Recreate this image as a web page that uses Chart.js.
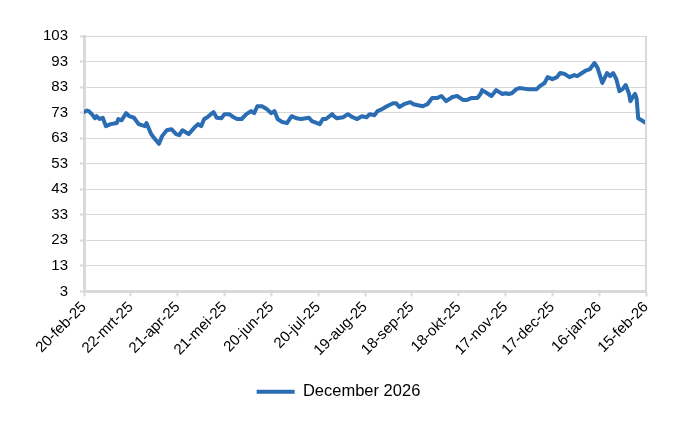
<!DOCTYPE html>
<html>
<head>
<meta charset="utf-8">
<script src="https://cdn.jsdelivr.net/npm/chart.js@4.4.1/dist/chart.umd.min.js"></script>
<style>
  html, body { margin: 0; padding: 0; background: #fff; }
  #wrap { width: 700px; height: 430px; }
</style>
</head>
<body>
<div id="wrap"><canvas id="chart" width="700" height="430"></canvas></div>
<script>
// days since 20-feb-25
const dayOffsets = [
  0, 2, 3, 5, 7, 8, 10, 12, 14, 17, 21, 22, 24, 27, 29, 32, 35, 39, 40, 43,
  45, 48, 50, 53, 56, 59, 61, 63, 66, 67, 71, 73, 75, 77, 79, 82, 83, 85, 88, 90,
  93, 95, 98, 101, 104, 107, 109, 111, 114, 117, 120, 122, 124, 127, 130, 133, 136, 139, 144, 146,
  151, 153, 155, 159, 160, 162, 166, 169, 172, 175, 178, 181, 183, 186, 188, 191, 194, 198, 200, 202,
  205, 209, 211, 214, 217, 220, 223, 226, 229, 232, 236, 239, 243, 245, 248, 252, 254, 255, 259, 261,
  264, 268, 270, 272, 274, 277, 279, 284, 288, 290, 292, 295, 297, 300, 303, 305, 308, 311, 314, 316,
  319, 321, 324, 327, 329, 332, 335, 337, 339, 341, 343, 345, 347, 349, 350, 352, 353, 354, 355, 358,
  360, 361
];
const dec2026 = [
  73.3, 73.8, 73.6, 72.4, 70.8, 71.6, 70.5, 71.0, 67.7, 68.5, 68.9, 70.5, 70.0, 72.8, 71.6, 71.0, 68.5, 67.7, 68.9, 64.6,
  63.0, 60.8, 63.8, 66.1, 66.5, 64.6, 64.2, 66.1, 65.0, 64.6, 67.3, 68.5, 67.7, 70.5, 71.2, 72.8, 73.2, 71.0, 70.8, 72.4,
  72.4, 71.5, 70.5, 70.5, 72.4, 73.6, 72.8, 75.5, 75.5, 74.4, 72.8, 73.6, 70.5, 69.3, 68.9, 71.6, 70.8, 70.5, 71.0, 69.7,
  68.5, 70.5, 70.5, 72.4, 71.6, 70.8, 71.2, 72.4, 71.2, 70.5, 71.6, 71.2, 72.4, 72.0, 73.6, 74.4, 75.5, 76.7, 76.7, 75.2,
  76.3, 77.1, 76.3, 75.9, 75.5, 76.3, 78.7, 78.7, 79.5, 77.5, 79.1, 79.5, 77.9, 77.9, 78.7, 78.7, 80.3, 81.8, 80.3, 79.5,
  81.8, 80.3, 80.6, 80.3, 80.6, 82.2, 82.6, 82.2, 82.2, 82.2, 83.4, 84.6, 86.9, 86.1, 86.9, 88.5, 88.1, 86.9, 87.7, 87.3,
  88.5, 89.3, 90.0, 92.4, 90.5, 84.6, 88.5, 87.3, 88.5, 86.1, 81.4, 82.2, 83.8, 80.6, 77.5, 79.5, 80.3, 78.5, 70.8, 69.7,
  68.9, 70.5
];
const tickLabels = [
  '20-feb-25', '22-mrt-25', '21-apr-25', '21-mei-25', '20-jun-25', '20-jul-25', '19-aug-25',
  '18-sep-25', '18-okt-25', '17-nov-25', '17-dec-25', '16-jan-26', '15-feb-26'
];
const seriesName = 'December 2026';

const BLUE = '#2a6db3';
const GREY = '#d9d9d9';

const rightBorder = {
  id: 'rightBorder',
  afterDraw(chart) {
    const { ctx, chartArea } = chart;
    ctx.save();
    ctx.strokeStyle = GREY;
    ctx.lineWidth = 2;
    ctx.beginPath();
    ctx.moveTo(chartArea.right, chartArea.top);
    ctx.lineTo(chartArea.right, chartArea.bottom);
    ctx.stroke();
    ctx.restore();
  }
};

new Chart(document.getElementById('chart'), {
  type: 'line',
  data: {
    datasets: [{
      label: seriesName,
      data: dayOffsets.map((d, i) => ({ x: d, y: dec2026[i] })),
      borderColor: BLUE,
      backgroundColor: BLUE,
      borderWidth: 4,
      pointRadius: 0,
      tension: 0,
      borderJoinStyle: 'round',
      borderCapStyle: 'round'
    }]
  },
  options: {
    responsive: false,
    animation: false,
    layout: { padding: { left: 31, right: 54, top: 36, bottom: 20 } },
    plugins: {
      tooltip: { enabled: false },
      legend: {
        position: 'bottom',
        labels: {
          usePointStyle: true,
          pointStyle: 'line',
          pointStyleWidth: 38,
          color: '#000',
          font: { family: 'Liberation Sans', size: 16.5 },
          padding: 22
        }
      }
    },
    scales: {
      x: {
        type: 'linear',
        min: 0,
        max: 360,
        afterBuildTicks(axis) {
          axis.ticks = tickLabels.map((_, i) => ({ value: i * 30 }));
        },
        ticks: {
          autoSkip: false,
          maxRotation: 45,
          minRotation: 45,
          color: '#000',
          padding: 2,
          font: { family: 'Liberation Sans', size: 15 },
          callback: (v) => tickLabels[Math.round(v / 30)]
        },
        grid: { drawOnChartArea: false, drawTicks: true, tickLength: 5, tickColor: GREY, tickWidth: 2 },
        border: { color: GREY, width: 3 }
      },
      y: {
        min: 3,
        max: 103,
        ticks: {
          stepSize: 10,
          color: '#000',
          padding: 12,
          font: { family: 'Liberation Sans', size: 15 }
        },
        grid: { color: GREY, lineWidth: 1, tickLength: 4, tickColor: GREY, tickWidth: 2 },
        border: { color: GREY, width: 3 }
      }
    }
  },
  plugins: [rightBorder]
});
</script>
</body>
</html>
